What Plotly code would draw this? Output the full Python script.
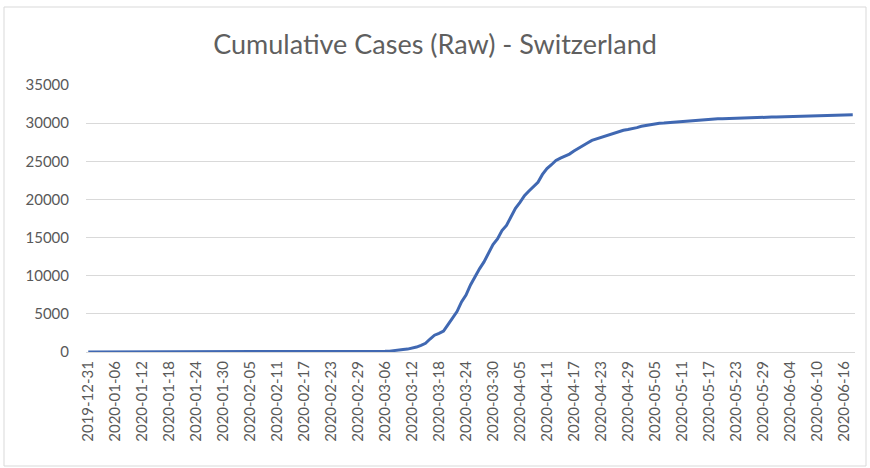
import datetime as dt
import plotly.graph_objects as go

# ---- data ----
start_date = dt.date(2019, 12, 31)
n_days = 171  # 2019-12-31 .. 2020-06-18
dates = [(start_date + dt.timedelta(days=i)).isoformat() for i in range(n_days)]

zero_days = 58  # 2019-12-31 .. 2020-02-26 have no cases
early_cases = [1, 1, 8, 8, 18, 27, 42, 56, 90, 114, 210, 270, 340, 380, 500, 650,  # Feb 27 - Mar 13
               880, 1140, 1700, 2200, 2450, 2750, 3600, 4500, 5300, 6570, 7470,      # Mar 14 - Mar 24
               8790, 9870, 10900, 11810, 12930, 14080, 14830]                        # Mar 25 - Mar 31
april_cases = [15920, 16600, 17770, 18830, 19610, 20500, 21100, 21660, 22250, 23280,
               24050, 24550, 25110, 25420, 25690, 25940, 26340, 26730, 27080, 27400,
               27740, 27940, 28060, 28270, 28500, 28680, 28890, 29060, 29160, 29260]
may_cases = [29410, 29590, 29710, 29820, 29900, 29980, 30010, 30060, 30130, 30200,
             30240, 30300, 30340, 30350, 30390, 30410, 30460, 30510, 30570, 30590,
             30600, 30620, 30660, 30690, 30700, 30720, 30740, 30750, 30760, 30780, 30790]
june_cases = [30800, 30820, 30830, 30840, 30860, 30870, 30880, 30900, 30920, 30940,
              30960, 30990, 31010, 31030, 31050, 31070, 31090, 31100]

cases = [0] * zero_days + early_cases + april_cases + may_cases + june_cases

tick_labels = dates[::6]
y_ticks = [0, 5000, 10000, 15000, 20000, 25000, 30000, 35000]
y_tick_text = [str(v) for v in y_ticks]

# ---- figure ----
W, H = 870, 468
ml, mr, mt, mb = 86, 15, 85, 116

fig = go.Figure()
fig.add_trace(go.Scatter(
    x=dates, y=cases, mode="lines",
    line=dict(color="#4068B2", width=3),
    showlegend=False, hoverinfo="x+y",
))

tick_font = dict(family="Lato, Carlito, Calibri, sans-serif", size=15, color="#595959")

fig.update_layout(
    width=W, height=H,
    margin=dict(l=ml, r=mr, t=mt, b=mb),
    paper_bgcolor="white", plot_bgcolor="white",
    title=dict(text="Cumulative Cases (Raw) - Switzerland",
               x=0.5, xref="container", xanchor="center",
               y=1 - 45 / H, yref="container", yanchor="middle",
               font=dict(family="Lato, Carlito, Calibri, sans-serif", size=27, color="#5f5f5f")),
    xaxis=dict(type="category", categoryorder="array", categoryarray=dates,
               range=[-0.5, n_days - 0.5],
               tickmode="array", tickvals=tick_labels, ticktext=tick_labels,
               tickangle=-90, tickfont=tick_font, ticks="", ticklabelstandoff=2,
               showgrid=False, showline=True, linecolor="#d9d9d9", linewidth=1,
               zeroline=False, fixedrange=True, automargin=False),
    yaxis=dict(range=[0, 35000], tickmode="array", tickvals=y_ticks, ticktext=y_tick_text,
               tickfont=tick_font, ticks="", ticklabelstandoff=16,
               showgrid=True, gridcolor="#d9d9d9", gridwidth=1,
               showline=False, zeroline=False, fixedrange=True, automargin=False),
)

# chart-area border (pixel coords converted to paper coords)
pw, ph = W - ml - mr, H - mt - mb
def px_x(v):
    return (v - ml) / pw
def px_y(v):
    return (H - mb - v) / ph
fig.add_shape(type="rect", xref="paper", yref="paper",
              x0=px_x(4), x1=px_x(866), y0=px_y(466), y1=px_y(7),
              line=dict(color="#d9d9d9", width=1), fillcolor="rgba(0,0,0,0)", layer="below")

fig.write_html("out.html", config={"displayModeBar": False},
               post_script="document.body.style.margin='0';document.body.style.overflow='hidden';")
